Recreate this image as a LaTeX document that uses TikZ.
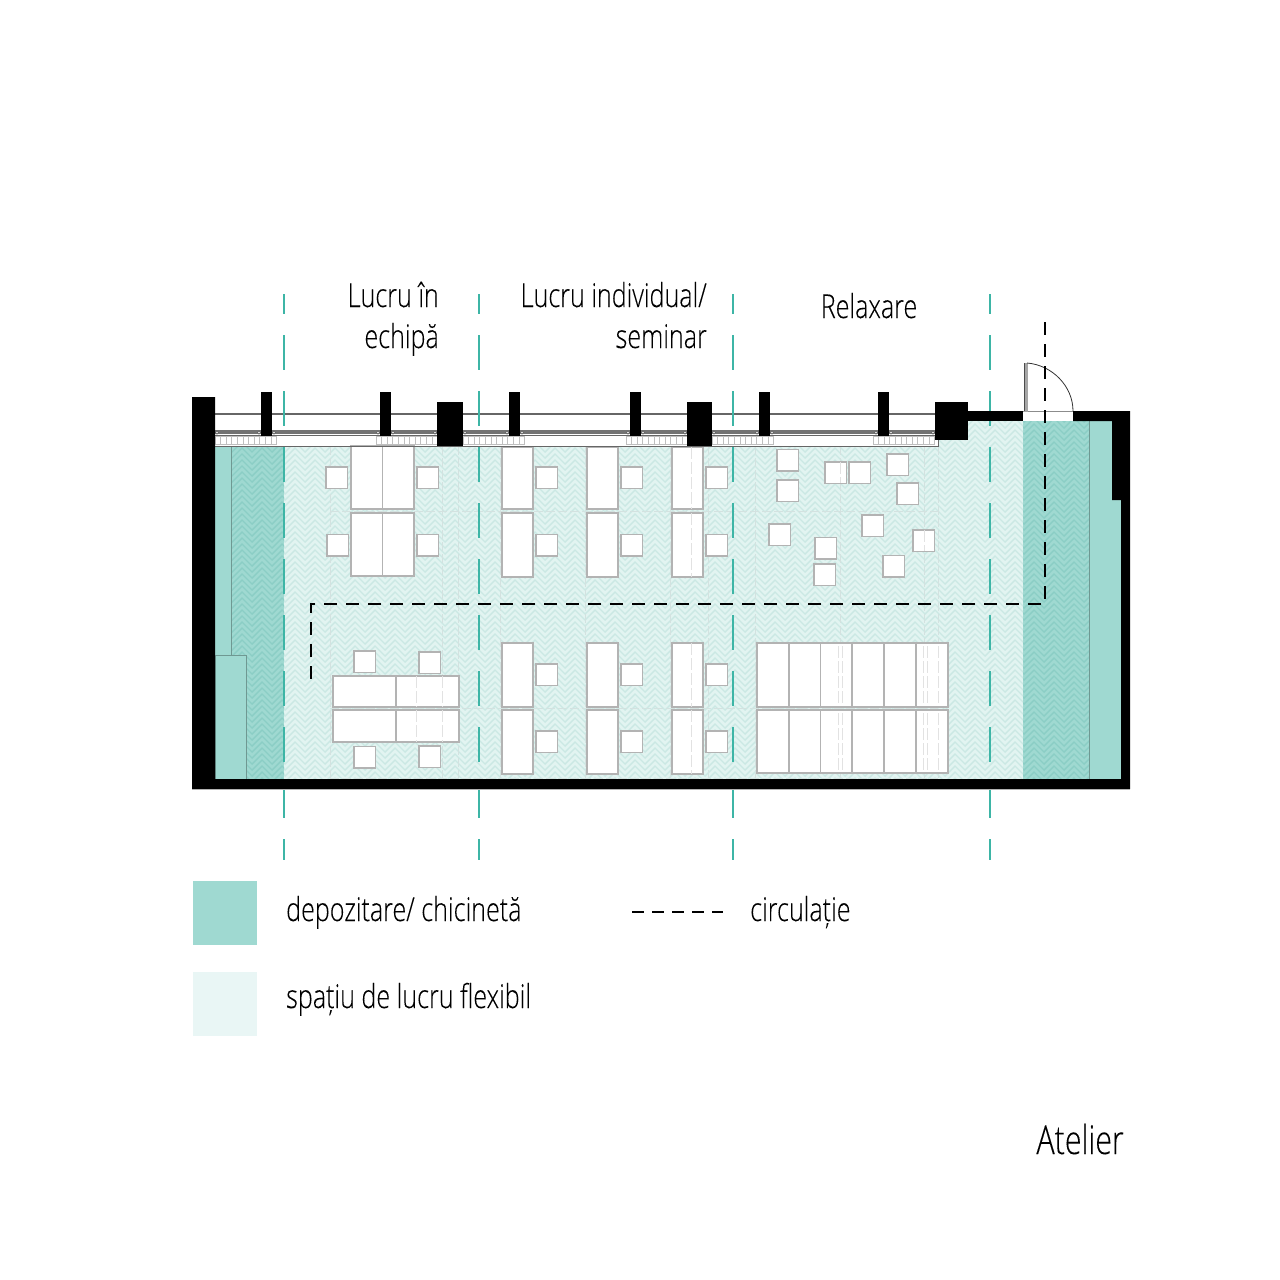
\documentclass[tikz,border=0pt]{standalone}
\usepackage{fontspec}
\setmainfont[FakeStretch=0.76,FakeBold=0.12]{Open Sans Light}
\definecolor{darkfloor}{HTML}{9FD9D1}
\definecolor{darkzig}{HTML}{8BCEC5}
\definecolor{lightfloor}{HTML}{E2F4F1}
\definecolor{lightzig}{HTML}{CBE8E4}
\definecolor{legendlight}{HTML}{E9F6F5}
\definecolor{axisteal}{HTML}{3DB5A6}
\definecolor{ghostgrey}{HTML}{D3E2E0}
\definecolor{ghostpale}{HTML}{E2E2E2}
\definecolor{tablegrey}{HTML}{B3B3B3}
\tikzset{
	tablebox/.style={draw=tablegrey,fill=white,line width=1.1pt},
	tableline/.style={draw=tablegrey,line width=1.1pt},
	axisline/.style={draw=axisteal,line width=2pt,dash pattern=on 35pt off 21pt,dash phase=15pt},
	routeline/.style={draw=black,line width=1.8pt,dash pattern=on 13pt off 9pt},
	ghostline/.style={draw=ghostgrey,line width=1pt,dash pattern=on 9pt off 3pt},
	paleline/.style={draw=ghostpale,line width=1pt,dash pattern=on 12pt off 3pt},
	zonetext/.style={inner sep=0pt,font=\fontsize{33}{41}\selectfont}
}
% one table, one stool
\newcommand{\deskbox}[4]{\draw[tablebox] (#1,#2) rectangle (#3,#4);}
\newcommand{\stoolbox}[2]{\draw[tablebox] (#1,#2) rectangle ++(21.5,21.5);}
\begin{document}
\begin{tikzpicture}[x=1pt,y=-1pt]
	\useasboundingbox (0,0) rectangle (1280,1280);
	% floor
	\fill[lightfloor] (284,446) -- (938,446) -- (938,440) -- (968,440) -- (968,421) -- (1023,421) -- (1023,779) -- (284,779) -- cycle;
	\fill[darkfloor] (215,446) rectangle (284,779);
	\fill[darkfloor] (1023,421) rectangle (1121,779);
	\begin{scope}
		\clip (284,446) -- (938,446) -- (938,440) -- (968,440) -- (968,421) -- (1023,421) -- (1023,779) -- (284,779) -- cycle;
		\foreach \rowy in {406,412,...,790}
			\draw[lightzig,line width=1.4pt] (275,\rowy) \foreach \i in {1,...,40} { -- ++(10,10) -- ++(10,-10) };
	\end{scope}
	\begin{scope}
		\clip (231,446) rectangle (284,779) (1023,421) rectangle (1089,779);
		\foreach \rowy in {406,412,...,790} {
			\draw[darkzig,line width=1.4pt] (222,\rowy) \foreach \i in {1,...,4} { -- ++(10,10) -- ++(10,-10) };
			\draw[darkzig,line width=1.4pt] (1014,\rowy) \foreach \i in {1,...,5} { -- ++(10,10) -- ++(10,-10) };
		}
	\end{scope}
	\draw[draw=black!30!darkfloor,line width=1pt] (231,446) -- (231,655);
	\draw[draw=black!30!darkfloor,fill=darkfloor,line width=1pt] (215,655) rectangle (246,779);
	\draw[draw=black!30!darkfloor,line width=1pt] (1089,421) -- (1089,779);
	% old grid under the furniture
	\foreach \gx in {330,442,458,500,585,670,708,755,840,924,938}
		\draw[ghostline] (\gx,446) -- (\gx,778);
	\foreach \gy in {511,708,778}
		\draw[ghostline] (330,\gy) -- (938,\gy);
	% team tables
	\foreach \ty/\tb in {446/509,513/576} {
		\deskbox{351}{\ty}{414}{\tb}
		\draw[tableline] (382.5,\ty) -- (382.5,\tb);
	}
	\foreach \tx/\sy in {326/467,327/534.5,417/467,417/534.5} {
		\stoolbox{\tx}{\sy}
	}
	% individual tables
	\foreach \tx in {502,587,672} {
		\deskbox{\tx}{447}{\tx+31}{509}
		\deskbox{\tx}{513}{\tx+31}{577}
		\deskbox{\tx}{643}{\tx+31}{707}
		\deskbox{\tx}{710}{\tx+31}{774}
		\foreach \sy in {467,534.5,664,731} {
			\stoolbox{\tx+34}{\sy}
		}
	}
	\foreach \ty/\tb in {447/509,513/577,643/707,710/774}
		\draw[paleline] (691,\ty) -- (691,\tb);
	% relax stools
	\foreach \sx/\sy in {777/449.5,777/480,825/462,849/462,887/454,897/483,862/515,913/530,769/524,815/537.5,814/564,883/555.5} {
		\stoolbox{\sx}{\sy}
	}
	\foreach \sx/\sy in {840/462,924/530}
		\draw[paleline] (\sx,\sy) -- (\sx,\sy+21);
	% lower left group
	\foreach \sx/\sy in {354/651,419/652,354/746.5,419/746} {
		\stoolbox{\sx}{\sy}
	}
	\foreach \ty/\tb in {676/707,710/742} {
		\deskbox{333}{\ty}{459}{\tb}
		\foreach \gx in {416,442}
			\draw[paleline] (\gx,\ty) -- (\gx,\tb);
		\draw[tableline] (396,\ty) -- (396,\tb);
	}
	% bench row
	\foreach \ty/\tb in {643/707,710/773} {
		\deskbox{757}{\ty}{948}{\tb}
		\foreach \gx in {838,842,923,927,938}
			\draw[paleline] (\gx,\ty+3) -- (\gx,\tb-3);
		\foreach \dx in {789,820.5,852,884,916}
			\draw[tableline] (\dx,\ty) -- (\dx,\tb);
	}
	% window front
	\draw[black!60,line width=1.2pt] (215,414) -- (935,414);
	\fill[black!55] (215,430) rectangle (935,433.5);
	\draw[black!60,line width=1pt] (215,435.5) -- (935,435.5);
	\draw[black!60,line width=1pt] (215,446) -- (938,446) -- (938,440);
	\foreach \rx in {215,376,463,626,712,873} {
		\draw[black!25,line width=.8pt] (\rx,436) rectangle ++(61.5,8);
		\foreach \i in {1,...,10}
			\draw[black!25,line width=.8pt] (\rx+\i*5.6,436) -- ++(0,8);
	}
	\foreach \cx in {217,259,274,378,393,435,465,507,522,628,643,685,714,757,772,876,891,933}
		\draw[black!60,fill=white,line width=.7pt] (\cx,432.5) circle (1.6);
	% axes
	\foreach \ax in {284,479,733,989.5}
		\draw[axisline] (\ax,294) -- (\ax,860);
	% route
	\coordinate (routeA) at (1045,322);
	\coordinate (routeB) at (1045,604);
	\coordinate (routeC) at (311,604);
	\coordinate (routeD) at (311,685);
	% walls
	\fill[black] (192,397) -- (215,397) -- (215,779) -- (1121,779) -- (1121,500) -- (1112,500) -- (1112,421) -- (1073,421) -- (1073,411) -- (1130,411) -- (1130,789) -- (192,789) -- cycle;
	\draw[black!30,line width=.8pt] (192,789.4) -- (1130,789.4);
	\fill[black] (968,411) rectangle (1023,421);
	\fill[black] (935,402) rectangle (968,440);
	\fill[black] (437,402) rectangle (463,446);
	\fill[black] (687,402) rectangle (712,446);
	\foreach \cx in {261,380,509,630,759,878}
		\fill[black] (\cx,392) rectangle ++(11,44);
	\draw[axisline] (989.5,391) -- (989.5,426);
	% door
	\fill[white] (1023,411.5) rectangle (1073,421);
	\draw[black!45,line width=1pt] (1023,411) -- (1073,411);
	\draw[black!35,fill=black!35,line width=.6pt] (1024,363) rectangle (1027,411);
	\draw[black!70,line width=.6pt] (1024,363) -- (1024,411);
	\draw[black!80,line width=.8pt] (1027,363) .. controls (1052,365) and (1073,386) .. (1073,411);
	\draw[routeline] (routeA) -- (routeB) -- (routeC) -- (routeD);
	% zone labels
	\node[zonetext,anchor=base east] (team) at (439,307) {Lucru în};
	\node[zonetext,anchor=base east] (teamb) at (439,348) {echipă};
	\node[zonetext,anchor=base east] (solo) at (707,307) {Lucru individual/};
	\node[zonetext,anchor=base east] (solob) at (707,348) {seminar};
	\node[zonetext,anchor=base] (relax) at (869,318) {Relaxare};
	% legend
	\fill[darkfloor] (193,881) rectangle (257,945);
	\fill[legendlight] (193,972) rectangle (257,1036);
	\node[zonetext,anchor=base west] (keystore) at (286,921) {depozitare/ chicinetă};
	\node[zonetext,anchor=base west] (keyflex) at (286,1008) {spațiu de lucru flexibil};
	\coordinate (keyA) at (632,912);
	\coordinate (keyB) at (723,912);
	\draw[black,line width=1.6pt,dash pattern=on 12pt off 8pt] (keyA) -- (keyB);
	\node[zonetext,anchor=base west] (keyroute) at (750,921) {circulație};
	\node[zonetext,anchor=base east,font=\fontsize{40}{50}\selectfont] (title) at (1124,1154) {Atelier};
\end{tikzpicture}
\end{document}
